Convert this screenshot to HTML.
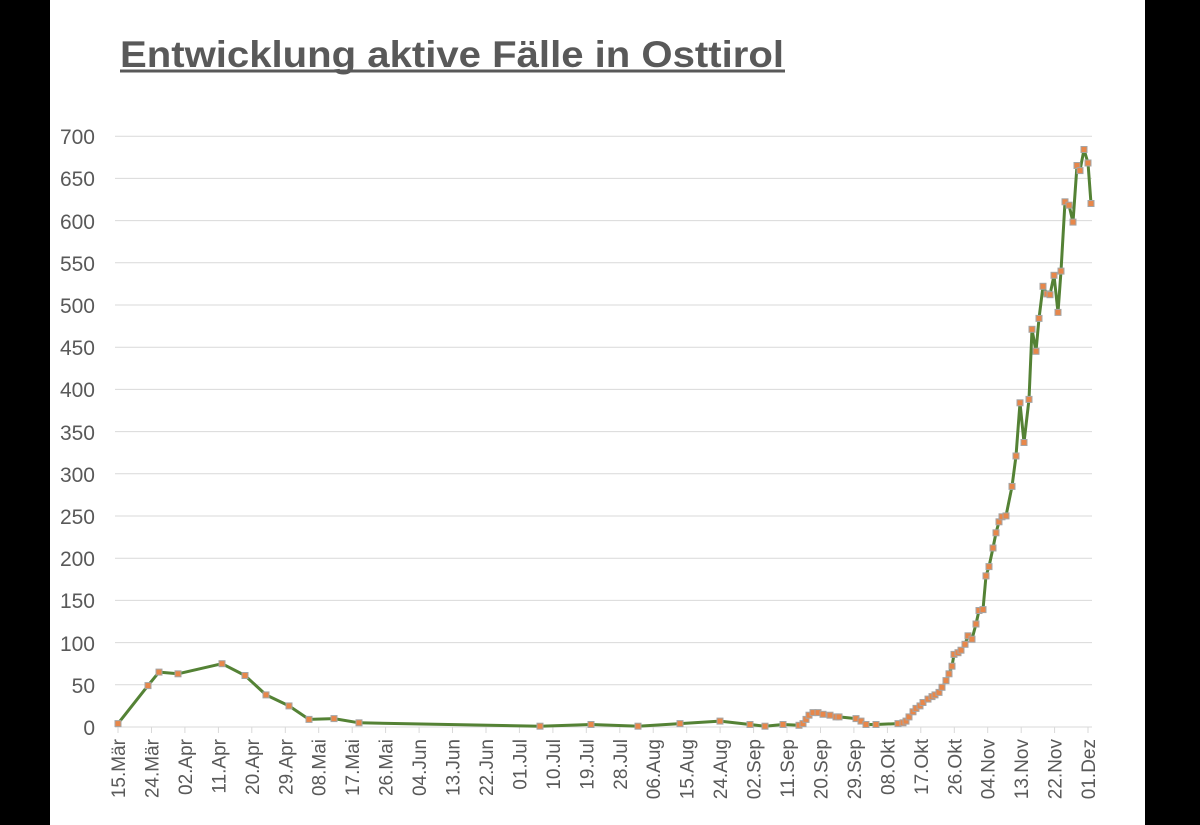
<!DOCTYPE html>
<html><head><meta charset="utf-8"><style>
html,body{margin:0;padding:0;background:#fff;}
svg{display:block;}
</style></head><body>
<svg width="1200" height="825" viewBox="0 0 1200 825" xmlns="http://www.w3.org/2000/svg" font-family="Liberation Sans, sans-serif">
<rect x="0" y="0" width="1200" height="825" fill="#fff"/>
<rect x="0" y="0" width="50" height="825" fill="#000"/>
<rect x="1145" y="0" width="55" height="825" fill="#000"/>
<text x="120" y="67" font-size="37" font-weight="bold" fill="#595959" textLength="664" lengthAdjust="spacingAndGlyphs">Entwicklung aktive Fälle in Osttirol</text>
<line x1="120" y1="71" x2="785" y2="71" stroke="#595959" stroke-width="3"/>
<g stroke="#d9d9d9" stroke-width="1">
<line x1="115" y1="684.8" x2="1092" y2="684.8"/><line x1="115" y1="642.6" x2="1092" y2="642.6"/>
<line x1="115" y1="600.4" x2="1092" y2="600.4"/><line x1="115" y1="558.2" x2="1092" y2="558.2"/>
<line x1="115" y1="516" x2="1092" y2="516"/><line x1="115" y1="473.8" x2="1092" y2="473.8"/>
<line x1="115" y1="431.6" x2="1092" y2="431.6"/><line x1="115" y1="389.4" x2="1092" y2="389.4"/>
<line x1="115" y1="347.2" x2="1092" y2="347.2"/><line x1="115" y1="305" x2="1092" y2="305"/>
<line x1="115" y1="262.8" x2="1092" y2="262.8"/><line x1="115" y1="220.6" x2="1092" y2="220.6"/>
<line x1="115" y1="178.4" x2="1092" y2="178.4"/><line x1="115" y1="136.2" x2="1092" y2="136.2"/>
<line x1="115" y1="727" x2="1092" y2="727"/>
<line x1="118" y1="727" x2="118" y2="733"/><line x1="151.5" y1="727" x2="151.5" y2="733"/><line x1="184.9" y1="727" x2="184.9" y2="733"/><line x1="218.4" y1="727" x2="218.4" y2="733"/><line x1="251.8" y1="727" x2="251.8" y2="733"/><line x1="285.3" y1="727" x2="285.3" y2="733"/><line x1="318.7" y1="727" x2="318.7" y2="733"/><line x1="352.2" y1="727" x2="352.2" y2="733"/><line x1="385.6" y1="727" x2="385.6" y2="733"/><line x1="419.1" y1="727" x2="419.1" y2="733"/><line x1="452.5" y1="727" x2="452.5" y2="733"/><line x1="486" y1="727" x2="486" y2="733"/><line x1="519.4" y1="727" x2="519.4" y2="733"/><line x1="552.9" y1="727" x2="552.9" y2="733"/><line x1="586.3" y1="727" x2="586.3" y2="733"/><line x1="619.8" y1="727" x2="619.8" y2="733"/><line x1="653.2" y1="727" x2="653.2" y2="733"/><line x1="686.7" y1="727" x2="686.7" y2="733"/><line x1="720.1" y1="727" x2="720.1" y2="733"/><line x1="753.6" y1="727" x2="753.6" y2="733"/><line x1="787" y1="727" x2="787" y2="733"/><line x1="820.5" y1="727" x2="820.5" y2="733"/><line x1="853.9" y1="727" x2="853.9" y2="733"/><line x1="887.4" y1="727" x2="887.4" y2="733"/><line x1="920.8" y1="727" x2="920.8" y2="733"/><line x1="954.3" y1="727" x2="954.3" y2="733"/><line x1="987.7" y1="727" x2="987.7" y2="733"/><line x1="1021.2" y1="727" x2="1021.2" y2="733"/><line x1="1054.6" y1="727" x2="1054.6" y2="733"/><line x1="1088" y1="727" x2="1088" y2="733"/>
</g>
<g font-size="21" fill="#595959" text-anchor="end">
<text x="95" y="735">0</text><text x="95" y="693">50</text><text x="95" y="651">100</text><text x="95" y="608">150</text><text x="95" y="566">200</text><text x="95" y="524">250</text><text x="95" y="482">300</text><text x="95" y="440">350</text><text x="95" y="397">400</text><text x="95" y="355">450</text><text x="95" y="313">500</text><text x="95" y="271">550</text><text x="95" y="229">600</text><text x="95" y="186">650</text><text x="95" y="144">700</text>
</g>
<g font-size="19" fill="#595959" text-anchor="end">
<text transform="translate(125,739) rotate(-90)">15.Mär</text>
<text transform="translate(158.5,739) rotate(-90)">24.Mär</text>
<text transform="translate(191.9,739) rotate(-90)">02.Apr</text>
<text transform="translate(225.4,739) rotate(-90)">11.Apr</text>
<text transform="translate(258.8,739) rotate(-90)">20.Apr</text>
<text transform="translate(292.3,739) rotate(-90)">29.Apr</text>
<text transform="translate(325.7,739) rotate(-90)">08.Mai</text>
<text transform="translate(359.2,739) rotate(-90)">17.Mai</text>
<text transform="translate(392.6,739) rotate(-90)">26.Mai</text>
<text transform="translate(426.1,739) rotate(-90)">04.Jun</text>
<text transform="translate(459.5,739) rotate(-90)">13.Jun</text>
<text transform="translate(493,739) rotate(-90)">22.Jun</text>
<text transform="translate(526.4,739) rotate(-90)">01.Jul</text>
<text transform="translate(559.9,739) rotate(-90)">10.Jul</text>
<text transform="translate(593.3,739) rotate(-90)">19.Jul</text>
<text transform="translate(626.8,739) rotate(-90)">28.Jul</text>
<text transform="translate(660.2,739) rotate(-90)">06.Aug</text>
<text transform="translate(693.7,739) rotate(-90)">15.Aug</text>
<text transform="translate(727.1,739) rotate(-90)">24.Aug</text>
<text transform="translate(760.6,739) rotate(-90)">02.Sep</text>
<text transform="translate(794,739) rotate(-90)">11.Sep</text>
<text transform="translate(827.5,739) rotate(-90)">20.Sep</text>
<text transform="translate(860.9,739) rotate(-90)">29.Sep</text>
<text transform="translate(894.4,739) rotate(-90)">08.Okt</text>
<text transform="translate(927.8,739) rotate(-90)">17.Okt</text>
<text transform="translate(961.3,739) rotate(-90)">26.Okt</text>
<text transform="translate(994.7,739) rotate(-90)">04.Nov</text>
<text transform="translate(1028.2,739) rotate(-90)">13.Nov</text>
<text transform="translate(1061.6,739) rotate(-90)">22.Nov</text>
<text transform="translate(1095,739) rotate(-90)">01.Dez</text>
</g>
<polyline fill="none" stroke="#548235" stroke-width="3" stroke-linejoin="round" points="118,723.6 148,685.6 159,672.1 178,673.8 222,663.7 245,675.5 266,694.9 289,705.9 309,719.4 334,718.6 359,722.8 540,726.2 591,724.5 638,726.2 680,723.6 720,721.1 750,724.5 765,726.2 783,724.5 799,725.3 803,723.6 806,719.4 809,715.2 813,712.6 818,712.6 823,714.3 830,715.2 836,716.9 839,716.9 856,718.6 861,721.1 866,724.5 876,724.5 898,723.6 903,722.8 906,721.1 909,716.9 913,711.8 916,708.4 920,705.9 923,702.5 928,699.1 932,696.6 935,694.9 939,692.4 942,687.3 946,680.6 949,673.8 952,666.2 954,654.4 958,652.7 961,650.2 965,644.3 968,635.8 972,639.2 976,624 979,610.5 983,609.6 986,575.9 989,566.6 993,548 996,532.8 999,521.8 1002,516.8 1006,515.9 1012,486.4 1016,456 1020,402.8 1024,442.5 1029,399.4 1032,329.3 1036,351.3 1039,318.4 1043,286.3 1047,293.9 1050,294.7 1054,275.3 1058,312.4 1061,271.1 1065,201.8 1069,205.2 1073,222.1 1077,165.5 1080,170.6 1084,149.5 1088,163 1091,203.5"/>
<g fill="#e8874a" stroke="#a5a5a5" stroke-width="1">
<rect x="115" y="720.6" width="6" height="6"/><rect x="145" y="682.6" width="6" height="6"/><rect x="156" y="669.1" width="6" height="6"/><rect x="175" y="670.8" width="6" height="6"/><rect x="219" y="660.7" width="6" height="6"/><rect x="242" y="672.5" width="6" height="6"/><rect x="263" y="691.9" width="6" height="6"/><rect x="286" y="702.9" width="6" height="6"/><rect x="306" y="716.4" width="6" height="6"/><rect x="331" y="715.6" width="6" height="6"/><rect x="356" y="719.8" width="6" height="6"/><rect x="537" y="723.2" width="6" height="6"/><rect x="588" y="721.5" width="6" height="6"/><rect x="635" y="723.2" width="6" height="6"/><rect x="677" y="720.6" width="6" height="6"/><rect x="717" y="718.1" width="6" height="6"/><rect x="747" y="721.5" width="6" height="6"/><rect x="762" y="723.2" width="6" height="6"/><rect x="780" y="721.5" width="6" height="6"/><rect x="796" y="722.3" width="6" height="6"/><rect x="800" y="720.6" width="6" height="6"/><rect x="803" y="716.4" width="6" height="6"/><rect x="806" y="712.2" width="6" height="6"/><rect x="810" y="709.6" width="6" height="6"/><rect x="815" y="709.6" width="6" height="6"/><rect x="820" y="711.3" width="6" height="6"/><rect x="827" y="712.2" width="6" height="6"/><rect x="833" y="713.9" width="6" height="6"/><rect x="836" y="713.9" width="6" height="6"/><rect x="853" y="715.6" width="6" height="6"/><rect x="858" y="718.1" width="6" height="6"/><rect x="863" y="721.5" width="6" height="6"/><rect x="873" y="721.5" width="6" height="6"/><rect x="895" y="720.6" width="6" height="6"/><rect x="900" y="719.8" width="6" height="6"/><rect x="903" y="718.1" width="6" height="6"/><rect x="906" y="713.9" width="6" height="6"/><rect x="910" y="708.8" width="6" height="6"/><rect x="913" y="705.4" width="6" height="6"/><rect x="917" y="702.9" width="6" height="6"/><rect x="920" y="699.5" width="6" height="6"/><rect x="925" y="696.1" width="6" height="6"/><rect x="929" y="693.6" width="6" height="6"/><rect x="932" y="691.9" width="6" height="6"/><rect x="936" y="689.4" width="6" height="6"/><rect x="939" y="684.3" width="6" height="6"/><rect x="943" y="677.6" width="6" height="6"/><rect x="946" y="670.8" width="6" height="6"/><rect x="949" y="663.2" width="6" height="6"/><rect x="951" y="651.4" width="6" height="6"/><rect x="955" y="649.7" width="6" height="6"/><rect x="958" y="647.2" width="6" height="6"/><rect x="962" y="641.3" width="6" height="6"/><rect x="965" y="632.8" width="6" height="6"/><rect x="969" y="636.2" width="6" height="6"/><rect x="973" y="621" width="6" height="6"/><rect x="976" y="607.5" width="6" height="6"/><rect x="980" y="606.6" width="6" height="6"/><rect x="983" y="572.9" width="6" height="6"/><rect x="986" y="563.6" width="6" height="6"/><rect x="990" y="545" width="6" height="6"/><rect x="993" y="529.8" width="6" height="6"/><rect x="996" y="518.8" width="6" height="6"/><rect x="999" y="513.8" width="6" height="6"/><rect x="1003" y="512.9" width="6" height="6"/><rect x="1009" y="483.4" width="6" height="6"/><rect x="1013" y="453" width="6" height="6"/><rect x="1017" y="399.8" width="6" height="6"/><rect x="1021" y="439.5" width="6" height="6"/><rect x="1026" y="396.4" width="6" height="6"/><rect x="1029" y="326.3" width="6" height="6"/><rect x="1033" y="348.3" width="6" height="6"/><rect x="1036" y="315.4" width="6" height="6"/><rect x="1040" y="283.3" width="6" height="6"/><rect x="1044" y="290.9" width="6" height="6"/><rect x="1047" y="291.7" width="6" height="6"/><rect x="1051" y="272.3" width="6" height="6"/><rect x="1055" y="309.4" width="6" height="6"/><rect x="1058" y="268.1" width="6" height="6"/><rect x="1062" y="198.8" width="6" height="6"/><rect x="1066" y="202.2" width="6" height="6"/><rect x="1070" y="219.1" width="6" height="6"/><rect x="1074" y="162.5" width="6" height="6"/><rect x="1077" y="167.6" width="6" height="6"/><rect x="1081" y="146.5" width="6" height="6"/><rect x="1085" y="160" width="6" height="6"/><rect x="1088" y="200.5" width="6" height="6"/>
</g>
</svg>
</body></html>
